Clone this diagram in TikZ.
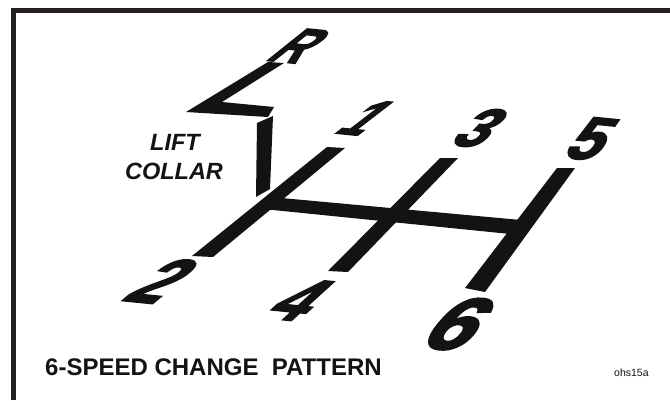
\documentclass[tikz,border=0pt]{standalone}
\usepackage{fontspec}
\setmainfont{Liberation Sans}
\newfontfamily\heavyfont[FakeBold=3]{Liberation Sans}
\definecolor{framegray}{RGB}{35,31,32}
\definecolor{inkc}{RGB}{20,18,18}
\begin{document}
\begin{tikzpicture}[x=1pt,y=-1pt,
  ink/.style={fill=inkc},
  glyph/.style={inner sep=0pt, text=inkc},
  lbl/.style={inner sep=0pt, text=inkc, font=\bfseries\itshape\fontsize{23.5}{23.5}\selectfont}]
\useasboundingbox (0,0) rectangle (670,400);
\fill[white] (0,0) rectangle (670,400);
% frame
\draw[line width=5pt, draw=framegray] (13.5,400) -- (13.5,10.5) -- (670,10.5);
% gate strokes
\fill[ink] (192,256) -- (327,147) -- (345,148) -- (213,257) -- cycle;
\fill[ink] (328,271) -- (440,158) -- (458,158) -- (348,272) -- cycle;
\fill[ink] (465,288) -- (557,168) -- (575,168) -- (485,292) -- cycle;
% neutral crossbar
\fill[ink] (276,197.5) -- (521,220) -- (510,234) -- (268,209.5) -- cycle;
% lift collar vertical
\fill[ink] (257,123) -- (273,116) -- (270,189) -- (256,197) -- cycle;
% reverse L
\fill[ink] (186,112) -- (268,62) -- (284,63) -- (222,102) -- (274,107) -- (268,117) -- cycle;
% gear numbers
\node[glyph, font=\heavyfont\bfseries\fontsize{46}{46}\selectfont, cm={0.95,-0.095,1.25,1,(0,0)}] (r) at (300,46) {R};
\node[glyph, font=\heavyfont\bfseries\fontsize{47}{47}\selectfont, cm={1.0,-0.1,1.3,1,(0,0)}] (g1) at (367,118) {1};
\node[glyph, font=\heavyfont\bfseries\fontsize{52}{52}\selectfont, cm={1.1,-0.11,0.95,1,(0,0)}] (g3) at (481,128) {3};
\node[glyph, font=\heavyfont\bfseries\fontsize{58}{58}\selectfont, cm={1.05,-0.105,0.7,1,(0,0)}] (g5) at (592,139) {5};
\node[glyph, font=\heavyfont\bfseries\fontsize{60}{60}\selectfont, cm={1.05,-0.105,1.2,1,(0,0)}] (g2) at (163,281) {2};
\node[glyph, font=\heavyfont\bfseries\fontsize{56}{56}\selectfont, cm={1.15,-0.115,1.1,1,(0,0)}] (g4) at (301,300) {4};
\node[glyph, font=\heavyfont\bfseries\fontsize{72}{72}\selectfont, cm={1.15,-0.115,0.82,1,(0,0)}] (g6) at (460,324) {6};
% texts
\node[lbl, anchor=base] (lift) at (175,150) {LIFT};
\node[lbl, anchor=base] (collar) at (174,179) {COLLAR};
\node[glyph, anchor=base west, font=\bfseries\fontsize{24}{24}\selectfont] (title) at (45,375) {6-SPEED CHANGE\ \ PATTERN};
\node[glyph, anchor=base west, font=\fontsize{10.5}{10.5}\selectfont] (code) at (614,376) {ohs15a};
\end{tikzpicture}
\end{document}
